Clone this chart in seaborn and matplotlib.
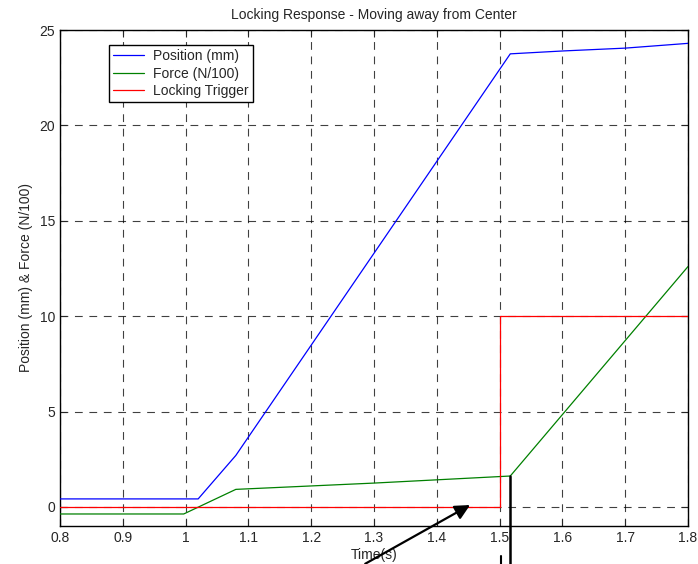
import matplotlib
matplotlib.use("Agg")
import matplotlib.pyplot as plt
import seaborn as sns
import pandas as pd

# Data
pos_t = [0.8, 1.02, 1.08, 1.517, 1.6, 1.7, 1.8]
pos_v = [0.42, 0.42, 2.7, 23.75, 23.9, 24.05, 24.3]

force_t = [0.8, 0.997, 1.08, 1.3, 1.517, 1.8]
force_v = [-0.37, -0.37, 0.92, 1.25, 1.62, 12.6]

trig_t = [0.8, 1.5, 1.5, 1.8]
trig_v = [0.0, 0.0, 10.0, 10.0]

series_names = ["Position (mm)", "Force (N/100)", "Locking Trigger"]
series_colors = ["#0000ff", "#008000", "#ff0000"]

sns.set_style("ticks")
plt.rcParams["font.family"] = ["Liberation Sans", "DejaVu Sans"]

df = pd.concat([
    pd.DataFrame({"t": pos_t, "v": pos_v, "s": series_names[0]}),
    pd.DataFrame({"t": force_t, "v": force_v, "s": series_names[1]}),
    pd.DataFrame({"t": trig_t, "v": trig_v, "s": series_names[2]}),
], ignore_index=True)

fig = plt.figure(figsize=(6.98, 5.64), dpi=100)
ax = fig.add_axes([60/698, 38/564, 628/698, 496/564])

sns.lineplot(data=df, x="t", y="v", hue="s", palette=dict(zip(series_names, series_colors)),
             sort=False, estimator=None, linewidth=0.9, ax=ax, legend=True, zorder=3)

ax.set_xlim(0.8, 1.8)
ax.set_ylim(-1, 25)
ax.set_xticks([0.8, 0.9, 1.0, 1.1, 1.2, 1.3, 1.4, 1.5, 1.6, 1.7, 1.8])
ax.set_xticklabels(["0.8", "0.9", "1", "1.1", "1.2", "1.3", "1.4", "1.5", "1.6", "1.7", "1.8"])
ax.set_yticks([0, 5, 10, 15, 20, 25])
ax.grid(True, color="black", linestyle=(0, (7, 6)), linewidth=0.8, alpha=0.75)
ax.tick_params(direction="in", length=5, labelsize=10, top=True, right=True, width=0.8)
for sp in ax.spines.values():
    sp.set_visible(True)
    sp.set_linewidth(1.0)
    sp.set_color("black")

ax.set_title("Locking Response - Moving away from Center", fontsize=10, pad=8)
ax.set_xlabel("Time(s)", fontsize=10, labelpad=2)
ax.set_ylabel("Position (mm) & Force (N/100)", fontsize=10, labelpad=5)

leg = ax.legend(loc="upper left", bbox_to_anchor=(0.078, 0.97), borderaxespad=0,
                fontsize=10, frameon=True, fancybox=False, framealpha=1, edgecolor="black",
                handlelength=2.2, borderpad=0.3, labelspacing=0.25, handletextpad=0.7,
                title=None)
leg.get_frame().set_linewidth(1.0)

# Annotation marks drawn outside the axes
ax.annotate("", xy=(1.453, 0.1), xytext=(1.286, -2.98), annotation_clip=False,
            arrowprops=dict(arrowstyle="-|>,head_length=0.9,head_width=0.45", color="black",
                            lw=1.6, shrinkA=0, shrinkB=0))
ax.plot([1.517, 1.517], [1.62, -2.98], color="black", lw=1.8, clip_on=False, zorder=5)
ax.plot([1.503, 1.503], [-2.57, -2.98], color="black", lw=1.5, clip_on=False, zorder=5)

fig.savefig("out.png", dpi=100)
